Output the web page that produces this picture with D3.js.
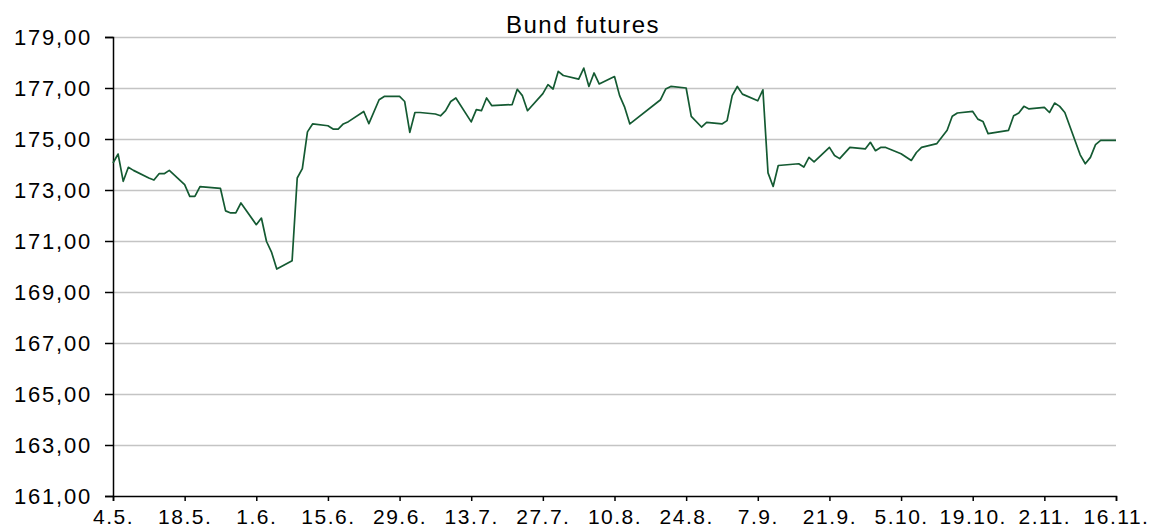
<!DOCTYPE html>
<html>
<head>
<meta charset="utf-8">
<script src="https://cdn.jsdelivr.net/npm/d3@7"></script>
<style>
  body { margin: 0; background: #fff; }
  svg { display: block; font-family: "Liberation Sans", Arial, sans-serif; }
</style>
</head>
<body>
<script>
// trading days (2020) and Bund futures settlement
var dates = [
  "2020-05-04","2020-05-05","2020-05-06","2020-05-07","2020-05-08",
  "2020-05-11","2020-05-12","2020-05-13","2020-05-14","2020-05-15",
  "2020-05-18","2020-05-19","2020-05-20","2020-05-21",
  "2020-05-25","2020-05-26","2020-05-27","2020-05-28","2020-05-29",
  "2020-06-01","2020-06-02","2020-06-03","2020-06-04","2020-06-05",
  "2020-06-08","2020-06-09","2020-06-10","2020-06-11","2020-06-12",
  "2020-06-15","2020-06-16","2020-06-17","2020-06-18","2020-06-19",
  "2020-06-22","2020-06-23","2020-06-25","2020-06-26",
  "2020-06-29","2020-06-30","2020-07-01","2020-07-02","2020-07-03",
  "2020-07-06","2020-07-07","2020-07-08","2020-07-09","2020-07-10",
  "2020-07-13","2020-07-14","2020-07-15","2020-07-16","2020-07-17",
  "2020-07-21","2020-07-22","2020-07-23","2020-07-24",
  "2020-07-27","2020-07-28","2020-07-29","2020-07-30","2020-07-31",
  "2020-08-03","2020-08-04","2020-08-05","2020-08-06","2020-08-07",
  "2020-08-10","2020-08-11","2020-08-12","2020-08-13",
  "2020-08-19","2020-08-20","2020-08-21",
  "2020-08-24","2020-08-25","2020-08-27","2020-08-28",
  "2020-08-31","2020-09-01","2020-09-02","2020-09-03","2020-09-04",
  "2020-09-07","2020-09-08","2020-09-09","2020-09-10","2020-09-11",
  "2020-09-15","2020-09-16","2020-09-17","2020-09-18",
  "2020-09-21","2020-09-22","2020-09-23","2020-09-25",
  "2020-09-28","2020-09-29","2020-09-30","2020-10-01","2020-10-02",
  "2020-10-05","2020-10-07","2020-10-08","2020-10-09",
  "2020-10-12","2020-10-14","2020-10-15","2020-10-16",
  "2020-10-19","2020-10-20","2020-10-21","2020-10-22",
  "2020-10-26","2020-10-27","2020-10-28","2020-10-29","2020-10-30",
  "2020-11-02","2020-11-03","2020-11-04","2020-11-05","2020-11-06",
  "2020-11-09","2020-11-10","2020-11-11","2020-11-12","2020-11-13",
  "2020-11-16"
];
var prices = [
  174.06,174.41,173.34,173.89,173.77,
  173.47,173.39,173.64,173.64,173.77,
  173.21,172.75,172.75,173.13,
  173.06,172.18,172.10,172.10,172.49,
  171.64,171.90,170.98,170.55,169.90,
  170.23,173.47,173.84,175.28,175.59,
  175.52,175.39,175.39,175.59,175.68,
  176.08,175.60,176.54,176.67,
  176.67,176.47,175.26,176.04,176.04,
  175.98,175.91,176.11,176.47,176.61,
  175.67,176.15,176.11,176.61,176.31,
  176.35,176.95,176.70,176.11,
  176.78,177.13,176.96,177.65,177.49,
  177.35,177.78,177.06,177.59,177.16,
  177.45,176.70,176.24,175.59,
  176.54,176.96,177.06,
  177.00,175.89,175.47,175.65,
  175.59,175.72,176.70,177.06,176.76,
  176.50,176.93,173.67,173.14,173.96,
  174.03,173.90,174.28,174.10,
  174.67,174.35,174.23,174.67,
  174.61,174.87,174.54,174.67,174.67,
  174.42,174.16,174.47,174.67,
  174.82,175.34,175.89,176.02,
  176.08,175.78,175.69,175.21,
  175.34,175.91,176.02,176.28,176.18,
  176.24,176.04,176.41,176.28,176.04,
  174.38,174.03,174.28,174.78,174.95,
  174.95
];
// x tick labels every two weeks
var tickDates = ["2020-05-04","2020-05-18","2020-06-01","2020-06-15","2020-06-29",
  "2020-07-13","2020-07-27","2020-08-10","2020-08-24","2020-09-07",
  "2020-09-21","2020-10-05","2020-10-19","2020-11-02","2020-11-16"];
var yTicks = [161,163,165,167,169,171,173,175,177,179];

var margin = {top: 37, right: 39, bottom: 31, left: 113},
    width = 1155 - margin.left - margin.right,
    height = 527 - margin.top - margin.bottom;

var parseDate = d3.timeParse("%Y-%m-%d");
var data = dates.map(function(d, i) { return {date: parseDate(d), value: prices[i]}; });

var de = d3.formatLocale({decimal: ",", thousands: ".", grouping: [3], currency: ["", " €"]});

var svg = d3.select("body").append("svg")
    .attr("width", 1155)
    .attr("height", 527);
var g = svg.append("g")
    .attr("transform", "translate(" + margin.left + "," + margin.top + ")");

var x = d3.scaleTime()
    .domain([parseDate(tickDates[0]), parseDate(tickDates[tickDates.length - 1])])
    .range([0, width]);
var y = d3.scaleLinear().domain([161, 179]).range([height, 0]);

// horizontal gridlines
g.append("g")
    .attr("class", "grid")
    .call(d3.axisLeft(y).tickValues(yTicks.slice(1)).tickSize(-width).tickFormat(""))
    .call(function(s) {
      s.select(".domain").remove();
      s.selectAll("line").attr("stroke", "#c4c4c4").attr("stroke-width", 1.3);
    });

// title
svg.append("text")
    .attr("x", 583)
    .attr("y", 33)
    .attr("text-anchor", "middle")
    .style("font-size", "24px")
    .style("letter-spacing", "1.5px")
    .text("Bund futures");

// y axis
g.append("g")
    .call(d3.axisLeft(y).tickValues(yTicks).tickSize(8).tickPadding(13)
      .tickFormat(de.format(".2f")))
    .call(function(s) {
      s.select(".domain").attr("stroke", "#000").attr("stroke-width", 1.5);
      s.selectAll("line").attr("stroke", "#000").attr("stroke-width", 1.5);
      s.selectAll("text").style("font-size", "22px").style("letter-spacing", "1.8px")
        .attr("fill", "#000").attr("font-family", null);
    });

// x axis
g.append("g")
    .attr("transform", "translate(0," + height + ")")
    .call(d3.axisBottom(x).tickValues(tickDates.map(parseDate)).tickSize(5).tickPadding(8)
      .tickFormat(d3.timeFormat("%-d.%-m.")))
    .call(function(s) {
      s.select(".domain").attr("stroke", "#000").attr("stroke-width", 1.5);
      s.selectAll("line").attr("stroke", "#000").attr("stroke-width", 1.5);
      s.selectAll("text").style("font-size", "21px").style("letter-spacing", "1.5px")
        .attr("fill", "#000").attr("font-family", null);
    });

// price line
var line = d3.line()
    .x(function(d) { return x(d.date); })
    .y(function(d) { return y(d.value); });

g.append("path")
    .datum(data)
    .attr("fill", "none")
    .attr("stroke", "#145a32")
    .attr("stroke-width", 1.7)
    .attr("stroke-linejoin", "round")
    .attr("d", line);
</script>
</body>
</html>
